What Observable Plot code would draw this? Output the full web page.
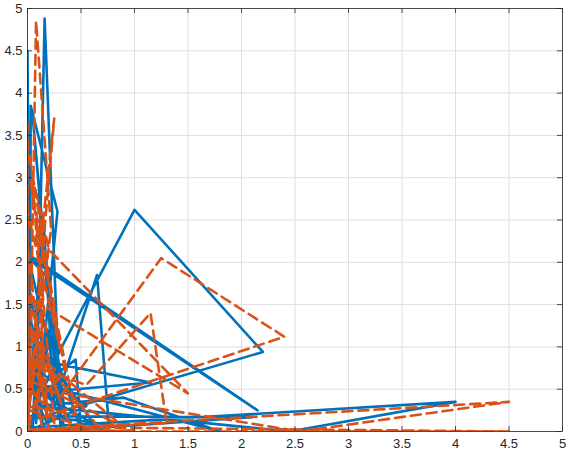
<!DOCTYPE html>
<html>
<head>
<meta charset="utf-8">
<script src="https://cdn.jsdelivr.net/npm/d3@7"></script>
<script src="https://cdn.jsdelivr.net/npm/@observablehq/plot@0.6"></script>
<style>
  html, body { margin: 0; padding: 0; background: #fff; }
  #chart { width: 566px; height: 457px; }
</style>
</head>
<body>
<div id="chart"></div>
<script>
// Tick values
const xTicks = [0, 0.5, 1, 1.5, 2, 2.5, 3, 3.5, 4, 4.5, 5];
const yTicks = [0, 0.5, 1, 1.5, 2, 2.5, 3, 3.5, 4, 4.5, 5];

// Series 1 (blue, solid) – points in drawing order
const blueX = [0.00,0.02,0.03,0.28,0.08,0.16,0.31,0.05,0.22,0.10,0.35,0.00,2.15,0.02,0.20,0.30,0.65,0.76,0.05,0.30,1.00,2.20,0.00,0.15,0.25,0.00,1.15,0.02,0.45,0.50,0.10,0.05,4.00,2.45,0.10,0.90,1.80,0.00,0.20,0.08,0.60,0.02,2.10,0.15,0.00,0.35,0.12,0.55,0.03,0.25,0.05,0.70,0.00];
const blueY = [4.50,0.30,3.85,2.60,0.10,4.88,0.05,3.70,1.20,2.80,0.20,2.10,0.25,2.05,1.80,0.50,1.85,0.08,0.20,0.95,2.62,0.94,0.12,2.50,0.30,0.87,0.58,0.45,0.85,0.02,1.50,0.05,0.35,0.00,0.30,0.40,0.00,0.60,0.05,1.10,0.12,0.18,0.17,0.00,1.70,0.02,0.70,0.30,0.02,1.40,0.50,0.03,0.00];

// Series 2 (orange, dashed) – points in drawing order
const orangeX = [0.00,0.00,0.02,0.08,0.22,0.00,0.25,0.12,0.03,0.30,0.00,0.00,0.18,0.05,0.20,1.50,0.00,0.30,1.25,2.40,0.10,0.15,0.00,0.55,1.15,1.30,0.02,4.50,2.55,0.10,0.00,4.50,0.40,0.05,0.20,0.00,0.00,0.35,0.02,0.70,0.10,0.00,0.45,0.08,0.25,0.00,0.90,0.03,0.15,1.00,0.00,0.00];
const orangeY = [3.65,1.20,0.40,4.85,2.40,0.10,3.70,2.20,2.95,1.00,2.60,0.50,0.30,3.00,2.15,0.45,1.60,0.40,2.05,1.12,0.15,1.80,0.80,0.55,1.40,0.10,0.02,0.35,0.00,0.50,0.00,0.00,0.05,1.20,0.02,2.20,3.40,0.70,0.25,0.00,0.90,0.30,0.20,2.50,0.10,1.00,0.05,0.60,0.00,0.01,0.02,2.90];

const blue = blueX.map((x, i) => ({x, y: blueY[i]}));
const orange = orangeX.map((x, i) => ({x, y: orangeY[i]}));

const W = 566, H = 457;
const mL = 27, mR = 4, mT = 8, mB = 26;
const innerW = W - mL - mR, innerH = H - mT - mB;
const tickLen = 5;
const axisColor = "#262626";
const fmt = d => String(d);

const chart = Plot.plot({
  width: W,
  height: H,
  marginLeft: mL,
  marginRight: mR,
  marginTop: mT,
  marginBottom: mB,
  style: {fontFamily: "'Liberation Sans', Arial, Helvetica, sans-serif", fontSize: "13px", color: axisColor, background: "#fff"},
  x: {domain: [0, 5], ticks: xTicks, tickFormat: fmt, label: null},
  y: {domain: [0, 5], ticks: yTicks, tickFormat: fmt, label: null},
  marks: [
    Plot.gridX(xTicks, {stroke: "#dedede", strokeOpacity: 1, strokeWidth: 1}),
    Plot.gridY(yTicks, {stroke: "#dedede", strokeOpacity: 1, strokeWidth: 1}),
    Plot.line(blue, {x: "x", y: "y", stroke: "#0072BD", strokeWidth: 2.6, clip: true}),
    Plot.line(orange, {x: "x", y: "y", stroke: "#D95319", strokeWidth: 2.6, strokeDasharray: "10,6", clip: true}),
    Plot.frame({stroke: axisColor, strokeWidth: 0.8}),
    // inward ticks on all four sides
    Plot.tickX(xTicks, {x: d => d, stroke: axisColor, strokeWidth: 0.8, insetTop: innerH - tickLen}),
    Plot.tickX(xTicks, {x: d => d, stroke: axisColor, strokeWidth: 0.8, insetBottom: innerH - tickLen}),
    Plot.tickY(yTicks, {y: d => d, stroke: axisColor, strokeWidth: 0.8, insetRight: innerW - tickLen}),
    Plot.tickY(yTicks, {y: d => d, stroke: axisColor, strokeWidth: 0.8, insetLeft: innerW - tickLen}),
    Plot.axisX(xTicks, {tickSize: 0, tickPadding: 7, tickFormat: fmt, fill: axisColor, label: null}),
    Plot.axisY(yTicks, {tickSize: 0, tickPadding: 5, tickFormat: fmt, fill: axisColor, label: null})
  ]
});
document.getElementById("chart").appendChild(chart);
</script>
</body>
</html>
